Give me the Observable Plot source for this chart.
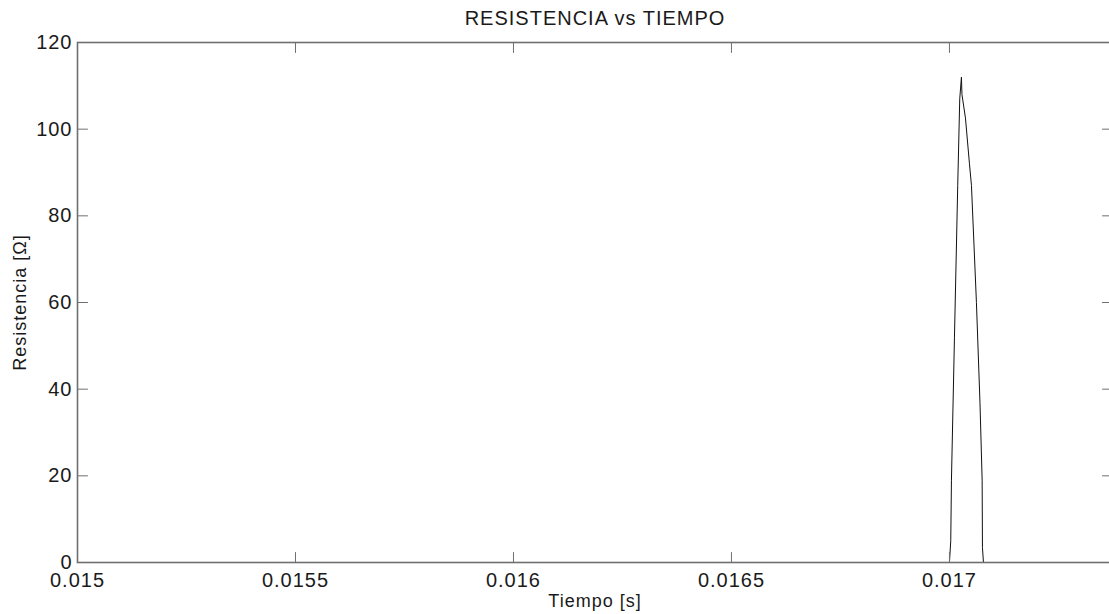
<!DOCTYPE html>
<html>
<head>
<meta charset="utf-8">
<script src="https://cdn.jsdelivr.net/npm/d3@7"></script>
<script src="https://cdn.jsdelivr.net/npm/@observablehq/plot@0.6"></script>
<style>
  html, body { margin: 0; padding: 0; background: #fff; overflow: hidden; }
  #chart svg { display: block; max-width: none; }
  #chart svg text { letter-spacing: 1px; }
</style>
</head>
<body>
<div id="chart"></div>
<script>
// Time samples [s] and resistance values [Ω]
const tiempo = [0.015, 0.0170000, 0.0170030, 0.0170046, 0.0170115, 0.0170190, 0.0170236, 0.0170275, 0.0170287,
                0.0170367, 0.0170459, 0.0170505, 0.0170619, 0.0170700, 0.0170750, 0.0170757, 0.0170780, 0.017374];
const resistencia = [0, 0, 5, 19, 52, 87, 107, 112, 108,
                     102.6, 92, 87, 60, 37, 19, 3.5, 0, 0];

const xTicks = [0.015, 0.0155, 0.016, 0.0165, 0.017];
const xTickLabels = ["0.015", "0.0155", "0.016", "0.0165", "0.017"];
const yTicks = [0, 20, 40, 60, 80, 100, 120];
const xDomain = [0.015, 0.017374];
const yDomain = [0, 120];

const titleText = "RESISTENCIA vs TIEMPO";
const xLabel = "Tiempo [s]";
const yLabel = "Resistencia [Ω]";

const data = tiempo.map((t, i) => ({t, r: resistencia[i]}));

const tickShape = {
  draw(context, l) { context.moveTo(0, 0); context.lineTo(0, -l); }
};
const axisColor = "#6f6f6f";
const textColor = "#1a1a1a";
const fs = 20;
const labelFs = 18;

const chart = Plot.plot({
  width: 1109,
  height: 614,
  marginLeft: 77,
  marginRight: -3,
  marginTop: 42,
  marginBottom: 52,
  style: {fontFamily: "'Liberation Sans', Arial, sans-serif", fontSize: fs + "px", color: textColor, background: "#fff"},
  x: {domain: xDomain},
  y: {domain: yDomain},
  marks: [
    Plot.line(data, {x: "t", y: "r", stroke: "#111", strokeWidth: 1}),
    Plot.frame({stroke: axisColor, strokeWidth: 1.6}),
    // inward ticks
    Plot.vector(xTicks, {x: d => d, frameAnchor: "bottom", length: 10, rotate: 0, anchor: "start", shape: tickShape, stroke: axisColor, strokeWidth: 1}),
    Plot.vector(xTicks, {x: d => d, frameAnchor: "top", length: 10, rotate: 180, anchor: "start", shape: tickShape, stroke: axisColor, strokeWidth: 1}),
    Plot.vector(yTicks, {y: d => d, frameAnchor: "left", length: 10, rotate: 90, anchor: "start", shape: tickShape, stroke: axisColor, strokeWidth: 1}),
    Plot.vector(yTicks, {y: d => d, frameAnchor: "right", length: 10, rotate: -90, anchor: "start", shape: tickShape, stroke: axisColor, strokeWidth: 1}),
    Plot.axisX({ticks: xTicks, tickSize: 0, tickPadding: 10, tickFormat: d => xTickLabels[xTicks.indexOf(d)], label: null, fontSize: fs}),
    Plot.axisY({ticks: yTicks, tickSize: 0, tickPadding: 5, tickFormat: d => String(d), label: null, fontSize: fs}),
    Plot.text([titleText], {frameAnchor: "top", dy: -24, textAnchor: "middle", lineAnchor: "middle", fontSize: fs, fill: textColor}),
    Plot.text([xLabel], {frameAnchor: "bottom", dy: 39, textAnchor: "middle", lineAnchor: "middle", fontSize: labelFs, fill: textColor}),
    Plot.text([yLabel], {frameAnchor: "left", dx: -57, rotate: -90, textAnchor: "middle", lineAnchor: "middle", fontSize: labelFs, fill: textColor})
  ]
});
chart.style.maxWidth = "none";
chart.style.overflow = "hidden";
document.getElementById("chart").appendChild(chart);
</script>
</body>
</html>
